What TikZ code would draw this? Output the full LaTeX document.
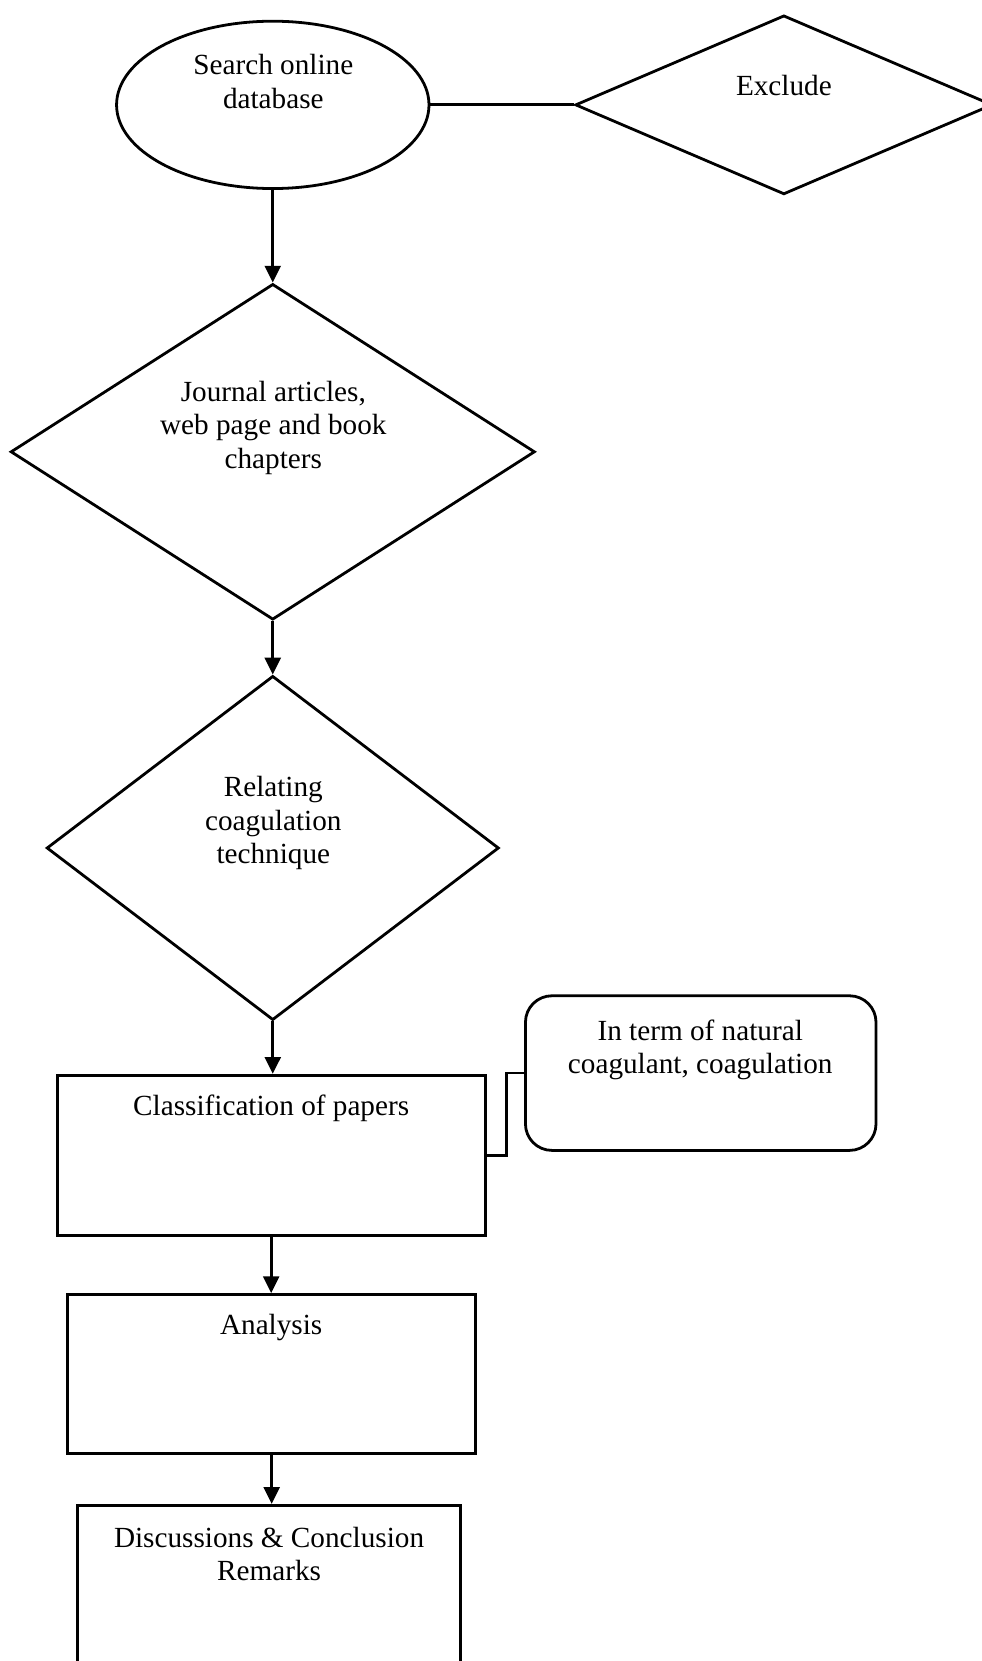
\documentclass[tikz,border=0pt]{standalone}
\usepackage{fontspec}
\setmainfont{Liberation Serif}
\usetikzlibrary{shapes.geometric,arrows.meta}

\tikzset{
    box/.style={draw,line width=1.5pt,inner sep=0pt},
    txt/.style={align=center,inner sep=0pt,font=\fontsize{15.7}{18.1}\selectfont},
    arr/.style={line width=1.5pt,-{Triangle[length=9pt,width=8.5pt]}},
    lin/.style={line width=1.5pt}
}

\begin{document}
\begin{tikzpicture}[x=0.02cm,y=-0.02cm]
    % one unit is one pixel of the page, y runs down
    \clip (0,0) rectangle (927,1568);
    \node[box,ellipse,minimum width=5.9cm,minimum height=3.16cm] (search) at (257.5,99) {};
    \node[txt] (searchtxt) at (258,77) {Search online\\database};
    \node[box,diamond,minimum width=7.88cm,minimum height=3.38cm] (exclude) at (740,99) {};
    \node[txt] (excludetxt) at (740,81) {Exclude};
    \node[box,diamond,minimum width=9.9cm,minimum height=6.34cm] (journal) at (257.5,426.5) {};
    \node[txt] (journaltxt) at (258,404) {Journal articles,\\web page and book\\chapters};
    \node[box,diamond,minimum width=8.54cm,minimum height=6.5cm] (relating) at (257.5,800.5) {};
    \node[txt] (relatingtxt) at (258,777) {Relating\\coagulation\\technique};
    \node[box,rectangle,minimum width=8.08cm,minimum height=3.02cm] (classif) at (256,1090.5) {};
    \node[txt] (classiftxt) at (256,1046) {Classification of papers};
    \node[box,rectangle,rounded corners=0.5cm,minimum width=6.62cm,minimum height=2.92cm] (natural) at (661.5,1013) {};
    \node[txt] (naturaltxt) at (661,991) {In term of natural\\coagulant, coagulation};
    \node[box,rectangle,minimum width=7.7cm,minimum height=3cm] (analysis) at (256.5,1297) {};
    \node[txt] (analysistxt) at (256,1253) {Analysis};
    \node[box,rectangle,minimum width=7.24cm,minimum height=3.18cm] (remarks) at (254,1500.5) {};
    \node[txt] (remarkstxt) at (254,1467) {Discussions \& Conclusion\\Remarks};

    \draw[lin] (search.east) -- (exclude.west);
    \draw[arr] (search.south) -- (journal.north);
    \draw[arr] (journal.south) -- (relating.north);
    \draw[arr] (relating.south) -- (classif.north -| relating.south);
    \draw[lin] (classif.east) -- ++(19,0) |- (natural.west);
    \draw[arr] (classif.south) -- (analysis.north -| classif.south);
    \draw[arr] (analysis.south) -- (remarks.north -| analysis.south);
\end{tikzpicture}
\end{document}
